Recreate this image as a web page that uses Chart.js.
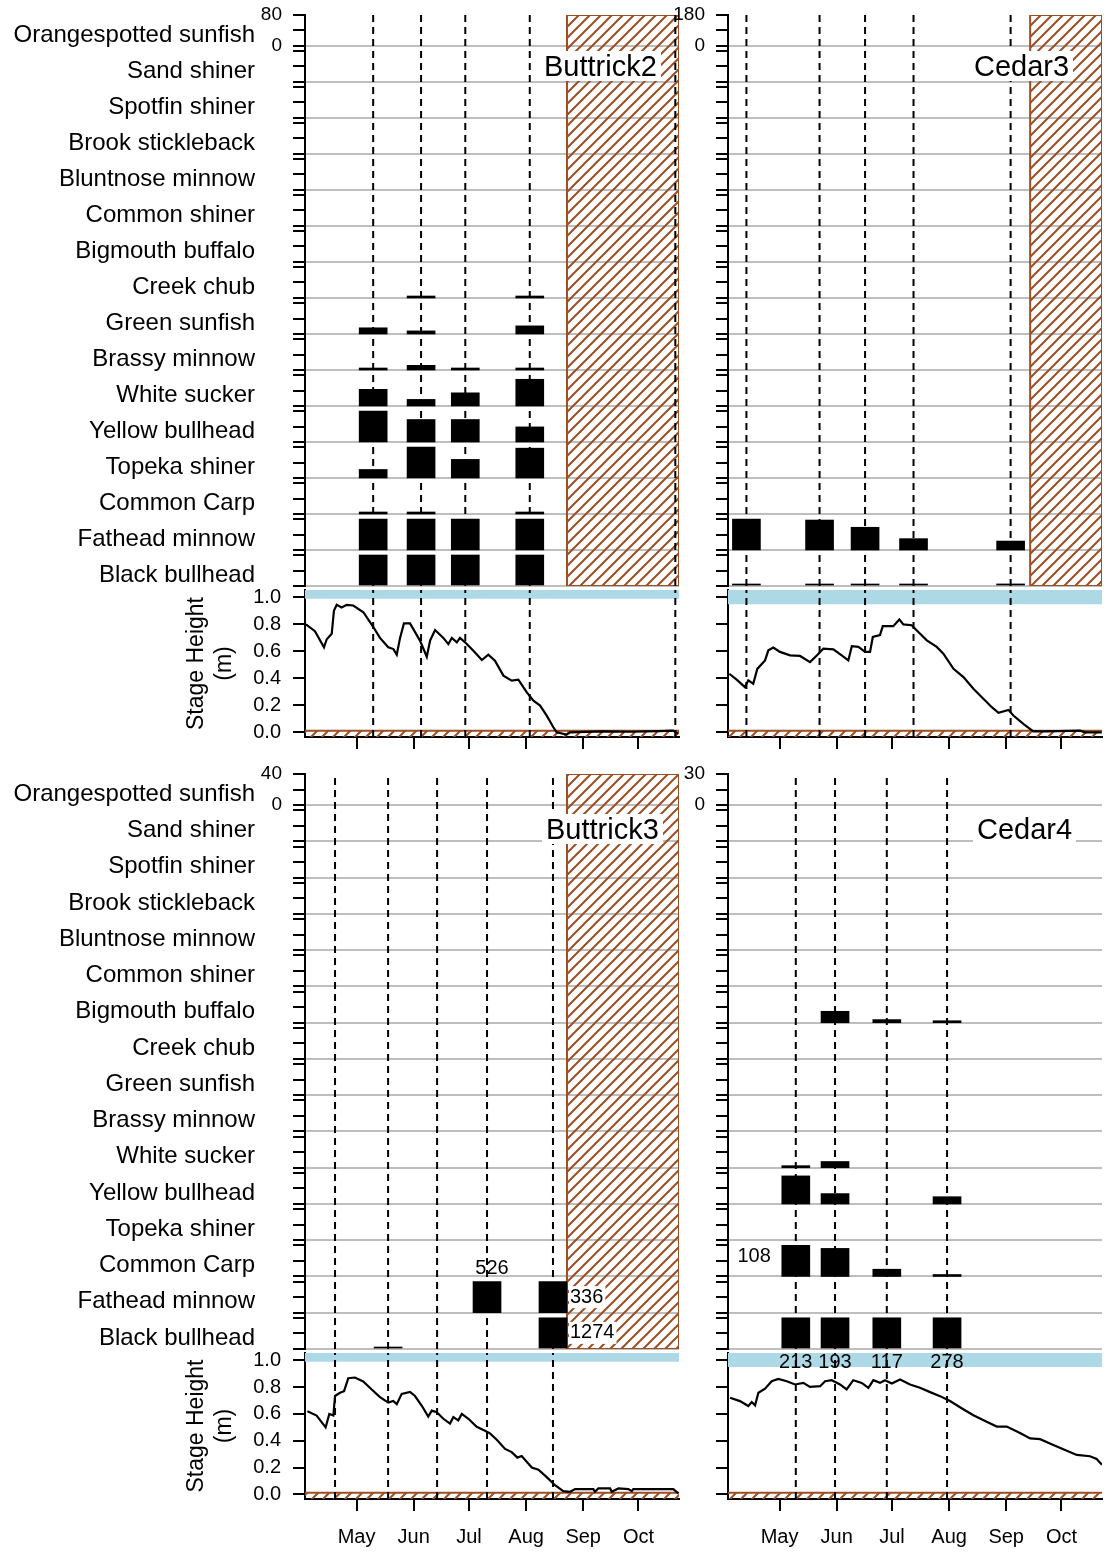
<!DOCTYPE html>
<html lang="en">
<head>
<meta charset="UTF-8">
<title>Fish catch and stage height</title>
<script src="https://cdn.jsdelivr.net/npm/chart.js@4"></script>
<style>
  body { margin: 0; background: #fff; width: 1104px; height: 1552px; position: relative; overflow: hidden;
         font-family: "Liberation Sans", Arial, sans-serif; }
  .box { position: absolute; }
  .box canvas { display: block; }
  .site { position: absolute; z-index: 9; background: #fff; color: #000; font-size: 29px;
          line-height: 30px; padding: 0 4px; white-space: nowrap; }
</style>
</head>
<body>
<div class="box" style="left:0;top:0;z-index:3"><canvas id="fB2"></canvas></div>
<div class="box" style="left:660px;top:0;z-index:4"><canvas id="fC3"></canvas></div>
<div class="box" style="left:0;top:586px;z-index:1"><canvas id="sB2"></canvas></div>
<div class="box" style="left:660px;top:586px;z-index:2"><canvas id="sC3"></canvas></div>
<div class="box" style="left:0;top:760px;z-index:3"><canvas id="fB3"></canvas></div>
<div class="box" style="left:660px;top:760px;z-index:4"><canvas id="fC4"></canvas></div>
<div class="box" style="left:0;top:1349px;z-index:1"><canvas id="sB3"></canvas></div>
<div class="box" style="left:660px;top:1349px;z-index:2"><canvas id="sC4"></canvas></div>
<div class="site" style="left:540px;top:51px">Buttrick2</div>
<div class="site" style="left:970px;top:51px">Cedar3</div>
<div class="site" style="left:542px;top:814px">Buttrick3</div>
<div class="site" style="left:973px;top:814px">Cedar4</div>

<script>
// ---- data ----
const SPECIES = ['Orangespotted sunfish', 'Sand shiner', 'Spotfin shiner', 'Brook stickleback',
  'Bluntnose minnow', 'Common shiner', 'Bigmouth buffalo', 'Creek chub', 'Green sunfish',
  'Brassy minnow', 'White sucker', 'Yellow bullhead', 'Topeka shiner', 'Common Carp',
  'Fathead minnow', 'Black bullhead'];
const MONTHS = ['May', 'Jun', 'Jul', 'Aug', 'Sep', 'Oct'];
const MONTH_DOY = [121, 152, 182, 213, 244, 274];   // day of year, 1st of month
const STAGE_TICKS = [0, 0.2, 0.4, 0.6, 0.8, 1.0];

// Buttrick2 (sample dates as day of year, counts per species top to bottom)
const B2_DATES = [130, 156, 180, 215, 294];
const B2_MAX = 80;
const B2_DRY = 235.2;
const B2_COUNTS = [
  [0, 0, 0, 0, 0], [0, 0, 0, 0, 0], [0, 0, 0, 0, 0], [0, 0, 0, 0, 0],
  [0, 0, 0, 0, 0], [0, 0, 0, 0, 0], [0, 0, 0, 0, 0],
  [0, 5, 0, 5, 0],        // Creek chub
  [16, 8, 0, 21, 0],      // Green sunfish
  [1, 12, 1, 2, 0],       // Brassy minnow
  [43, 17, 34, 69, 0],    // White sucker
  [80, 58, 58, 39, 0],    // Yellow bullhead
  [22, 80, 48, 77, 0],    // Topeka shiner
  [1, 1, 0, 1, 0],        // Common Carp
  [80, 80, 80, 80, 0],    // Fathead minnow
  [80, 80, 80, 80, 0]     // Black bullhead
];
const B2_OVER = [];
const B2_DOY = [93.5, 98.4, 103.3, 104.8, 107.5, 108.7, 110.2, 112.9, 115.6, 119.2, 124.7, 130.1,
  133.7, 138.2, 141.0, 142.8, 144.6, 146.7, 150.0, 155.4, 159.1, 160.9, 163.6, 168.1, 170.8, 172.7,
  175.4, 177.1, 179.9, 184.4, 189.0, 192.5, 196.1, 200.7, 205.2, 208.8, 213.4, 217.0, 220.6, 224.2,
  227.8, 229.6, 235.0, 236.9, 255.0, 270.0, 285.0, 292.8, 295.5];
const B2_STAGE = [0.80, 0.75, 0.63, 0.69, 0.73, 0.90, 0.945, 0.926, 0.945, 0.94, 0.89, 0.78,
  0.70, 0.63, 0.617, 0.575, 0.70, 0.807, 0.807, 0.68, 0.56, 0.68, 0.758, 0.70, 0.654, 0.70,
  0.667, 0.70, 0.667, 0.605, 0.536, 0.575, 0.53, 0.42, 0.383, 0.39, 0.296, 0.235, 0.198, 0.123,
  0.037, 0.0, -0.017, 0.0, 0.007, 0.004, 0.008, 0.012, -0.01];

// Cedar3
const C3_DATES = [103.0, 142.7, 167.4, 193.7, 246.4];
const C3_MAX = 180;
const C3_DRY = 257.0;
const C3_COUNTS = [
  [0, 0, 0, 0, 0], [0, 0, 0, 0, 0], [0, 0, 0, 0, 0], [0, 0, 0, 0, 0],
  [0, 0, 0, 0, 0], [0, 0, 0, 0, 0], [0, 0, 0, 0, 0], [0, 0, 0, 0, 0],
  [0, 0, 0, 0, 0], [0, 0, 0, 0, 0], [0, 0, 0, 0, 0], [0, 0, 0, 0, 0],
  [0, 0, 0, 0, 0], [0, 0, 0, 0, 0],
  [180, 174, 132, 66, 52], // Fathead minnow
  [1, 1, 1, 1, 12]         // Black bullhead
];
const C3_OVER = [];
const C3_DOY = [93.7, 97.7, 102.2, 104.0, 106.7, 108.9, 113.1, 114.9, 117.6, 121.2, 126.7, 132.1,
  137.5, 141.2, 144.7, 150.2, 154.7, 158.3, 160.2, 163.8, 167.4, 170.1, 171.6, 175.5, 177.0, 182.7,
  186.0, 188.2, 192.7, 196.3, 200.9, 206.3, 209.9, 215.4, 220.8, 226.2, 231.6, 236.2, 239.8, 245.2,
  247.9, 253.3, 258.7, 266.0, 284.1, 286.8, 295.9];
const C3_STAGE = [0.434, 0.39, 0.335, 0.385, 0.36, 0.47, 0.533, 0.608, 0.628, 0.596, 0.57, 0.566,
  0.52, 0.57, 0.62, 0.615, 0.57, 0.533, 0.638, 0.633, 0.596, 0.596, 0.707, 0.72, 0.787, 0.787,
  0.836, 0.80, 0.794, 0.744, 0.682, 0.633, 0.583, 0.471, 0.409, 0.323, 0.248, 0.186, 0.144, 0.166,
  0.124, 0.062, 0.007, 0.007, 0.012, 0.0, 0.0];

// Buttrick3
const B3_DATES = [109.3, 138.1, 164.7, 191.8, 227.6];
const B3_MAX = 40;
const B3_DRY = 235.2;
const B3_COUNTS = [
  [0, 0, 0, 0, 0], [0, 0, 0, 0, 0], [0, 0, 0, 0, 0], [0, 0, 0, 0, 0],
  [0, 0, 0, 0, 0], [0, 0, 0, 0, 0], [0, 0, 0, 0, 0], [0, 0, 0, 0, 0],
  [0, 0, 0, 0, 0], [0, 0, 0, 0, 0], [0, 0, 0, 0, 0], [0, 0, 0, 0, 0],
  [0, 0, 0, 0, 0], [0, 0, 0, 0, 0],
  [0, 0, 0, 526, 336],     // Fathead minnow
  [0, 1, 0, 0, 1274]       // Black bullhead
];
const B3_OVER = [[14, 3, 'top'], [14, 4, 'right'], [15, 4, 'right']];
const B3_DOY = [94.3, 99.3, 104.2, 106.2, 108.4, 109.3, 112.0, 114.2, 116.5, 120.1, 124.6, 129.2,
  133.7, 138.2, 140.9, 142.8, 145.5, 150.0, 152.7, 156.4, 159.9, 161.8, 164.5, 168.1, 171.7, 173.5,
  176.2, 178.1, 181.7, 186.2, 190.7, 193.4, 197.1, 201.6, 205.2, 208.3, 210.6, 216.1, 219.7, 224.2,
  228.7, 233.2, 236.9, 239.6, 249.5, 250.4, 252.2, 258.6, 259.5, 263.1, 268.5, 270.4, 271.2, 292.9,
  295.6];
const B3_STAGE = [0.62, 0.588, 0.50, 0.60, 0.588, 0.734, 0.758, 0.77, 0.867, 0.872, 0.843, 0.782,
  0.726, 0.685, 0.697, 0.673, 0.75, 0.765, 0.734, 0.661, 0.581, 0.625, 0.613, 0.564, 0.528, 0.576,
  0.552, 0.60, 0.564, 0.504, 0.475, 0.455, 0.407, 0.339, 0.315, 0.274, 0.286, 0.20, 0.184, 0.128,
  0.068, 0.024, 0.019, 0.039, 0.039, 0.019, 0.044, 0.044, 0.019, 0.044, 0.039, 0.024, 0.039, 0.039,
  0.007];

// Cedar4
const C4_DATES = [129.8, 151.1, 179.2, 211.9];
const C4_MAX = 30;
const C4_DRY = null;
const C4_COUNTS = [
  [0, 0, 0, 0], [0, 0, 0, 0], [0, 0, 0, 0], [0, 0, 0, 0], [0, 0, 0, 0], [0, 0, 0, 0],
  [0, 11, 3, 1],           // Bigmouth buffalo
  [0, 0, 0, 0], [0, 0, 0, 0], [0, 0, 0, 0],
  [2, 6, 0, 0],            // White sucker
  [27, 10, 0, 7],          // Yellow bullhead
  [0, 0, 0, 0],
  [108, 27, 7, 1],         // Common Carp
  [0, 0, 0, 0],
  [213, 193, 117, 278]     // Black bullhead
];
const C4_OVER = [[13, 0, 'left'], [15, 0, 'bottom'], [15, 1, 'bottom'], [15, 2, 'bottom'], [15, 3, 'bottom']];
const C4_DOY = [94.1, 99.5, 104.0, 105.9, 107.7, 109.5, 113.1, 116.7, 120.3, 124.9, 129.4, 133.9,
  137.5, 143.0, 145.7, 149.3, 153.8, 157.4, 161.0, 165.6, 169.2, 171.9, 175.5, 178.2, 181.9, 186.4,
  191.8, 197.2, 202.7, 208.1, 213.5, 220.7, 226.2, 233.4, 238.9, 244.3, 251.5, 257.0, 262.4, 269.6,
  276.9, 282.3, 289.5, 293.1, 296.0];
const C4_STAGE = [0.721, 0.696, 0.659, 0.689, 0.664, 0.758, 0.788, 0.844, 0.862, 0.844, 0.82, 0.832,
  0.802, 0.807, 0.844, 0.852, 0.82, 0.783, 0.852, 0.832, 0.795, 0.852, 0.832, 0.852, 0.827, 0.857,
  0.82, 0.795, 0.763, 0.733, 0.696, 0.635, 0.59, 0.541, 0.506, 0.506, 0.457, 0.417, 0.412, 0.368,
  0.326, 0.294, 0.284, 0.264, 0.22];

// ---- styling / layout ----
const X_MIN = 93, X_MAX = 296;
const ROWS = SPECIES.length;
const ROW_FILL = 0.861;              // share of a row the axis 0..max occupies
const Y_TOP = ROWS - 1 + ROW_FILL;
const NAME_OFFSET = 0.3;
const STAGE_MIN = -0.035, STAGE_MAX = 1.055, DRY_LEVEL = 0.012;
const BROWN = '#9c4f24', BLUE = '#add8e6', GRID = '#bebebe';

Chart.defaults.font.family = '"Liberation Sans", Arial, sans-serif';
Chart.defaults.color = '#000';

function hatch() {
  const c = document.createElement('canvas');
  c.width = 11; c.height = 11;
  const g = c.getContext('2d');
  g.strokeStyle = BROWN;
  g.lineWidth = 2;
  g.beginPath();
  g.moveTo(0, 11); g.lineTo(11, 0);
  g.moveTo(-3, 3); g.lineTo(3, -3);
  g.moveTo(8, 14); g.lineTo(14, 8);
  g.stroke();
  return g.createPattern(c, 'repeat');
}
const HATCH = hatch();

function dashPts(dates, lo, hi) {
  const pts = [];
  dates.forEach(d => pts.push({x: d, y: lo}, {x: d, y: hi}, {x: d, y: null}));
  return pts;
}

function noPad(s) { s.paddingTop = 0; s.paddingBottom = 0; s.paddingLeft = 0; s.paddingRight = 0; }

// count labels for bars cut at the axis maximum
const overLabels = {
  id: 'overLabels',
  afterDatasetsDraw(chart) {
    const meta = chart.getDatasetMeta(0);
    const data = chart.data.datasets[0].data;
    const ctx = chart.ctx;
    ctx.save();
    ctx.font = '20px "Liberation Sans", Arial, sans-serif';
    ctx.textBaseline = 'middle';
    meta.data.forEach((el, i) => {
      const d = data[i];
      if (!d.side) return;
      const t = String(d.n);
      const w = ctx.measureText(t).width;
      const top = Math.min(el.y, el.base), bot = Math.max(el.y, el.base);
      let x, y;
      if (d.side === 'top') { x = el.x + 5 - w / 2; y = top - 13; }
      else if (d.side === 'right') { x = el.x + 17; y = (top + bot) / 2; }
      else if (d.side === 'left') { x = el.x - 25 - w; y = (top + bot) / 2 - 4; }
      else { x = el.x - w / 2; y = bot + 14; }
      if (d.side === 'right') {
        ctx.fillStyle = '#fff';
        ctx.fillRect(x - 1, y - 11, w + 3, 22);
      }
      ctx.fillStyle = '#000';
      ctx.textAlign = 'left';
      ctx.fillText(t, x, y);
    });
    ctx.restore();
  }
};

function fishChart(id, p, L) {
  const canvas = document.getElementById(id);
  canvas.width = L.w; canvas.height = L.fishH;
  const bars = [];
  p.counts.forEach((row, k) => row.forEach((n, j) => {
    if (!n) return;
    const base = ROWS - 1 - k;
    const o = p.over.find(q => q[0] === k && q[1] === j);
    bars.push({x: p.dates[j], y: [base, base + Math.min(n, p.max) / p.max * ROW_FILL], n, side: o ? o[2] : null});
  }));
  const datasets = [
    {type: 'bar', data: bars, backgroundColor: '#000', borderWidth: 0, barThickness: 28, minBarLength: 2},
    {type: 'line', data: dashPts(p.dates, 0, Y_TOP), borderColor: '#000', borderWidth: 2,
     borderDash: [7, 5], pointRadius: 0, fill: false}
  ];
  if (p.dry) {
    datasets.push({type: 'line', data: [{x: p.dry, y: Y_TOP}, {x: X_MAX, y: Y_TOP}],
      backgroundColor: HATCH, borderWidth: 0, pointRadius: 0, fill: 'start'});
    datasets.push({type: 'line', data: [{x: p.dry, y: 0}, {x: p.dry, y: Y_TOP}, {x: X_MAX, y: Y_TOP},
      {x: X_MAX, y: 0}, {x: p.dry, y: 0}], borderColor: BROWN, borderWidth: 2, pointRadius: 0, fill: false});
  }
  const scales = {
    x: {type: 'linear', display: false, min: X_MIN, max: X_MAX, offset: false},
    y: {
      position: 'left', min: 0, max: Y_TOP, weight: 0,
      afterBuildTicks: s => {
        const t = [];
        for (let b = 0; b < ROWS; b++) t.push({value: b}, {value: b + ROW_FILL / 2}, {value: b + ROW_FILL});
        s.ticks = t;
      },
      ticks: {
        autoSkip: false, padding: 11, font: {size: 19},
        callback: v => Math.abs(v - (ROWS - 1)) < 1e-6 ? '0' : (Math.abs(v - Y_TOP) < 1e-6 ? String(p.max) : '')
      },
      grid: {
        color: c => (c.tick && Number.isInteger(c.tick.value)) ? GRID : 'rgba(0,0,0,0)',
        tickColor: '#000', lineWidth: 2, tickLength: 12
      },
      border: {color: '#000', width: 2},
      afterFit: s => { s.width = L.numW; noPad(s); }
    }
  };
  if (L.names) {
    scales.yName = {
      position: 'left', min: 0, max: Y_TOP, weight: 10,
      afterBuildTicks: s => { s.ticks = SPECIES.map((_, k) => ({value: k + NAME_OFFSET})); },
      ticks: {autoSkip: false, padding: 2, font: {size: 24},
              callback: v => SPECIES[ROWS - 1 - Math.round(v - NAME_OFFSET)]},
      grid: {display: false, drawTicks: false},
      border: {display: false},
      afterFit: s => { s.width = L.nameW; noPad(s); }
    };
  }
  return new Chart(canvas, {
    type: 'bar',
    data: {datasets},
    plugins: [overLabels],
    options: {
      responsive: false, animation: false, events: [],
      layout: {padding: {left: 0, top: L.padT, right: L.padR, bottom: L.padB}},
      plugins: {legend: {display: false}, tooltip: {enabled: false}},
      scales
    }
  });
}

function stageChart(id, p, L) {
  const canvas = document.getElementById(id);
  canvas.width = L.w; canvas.height = L.stageH;
  const datasets = [
    {data: p.doy.map((x, i) => ({x, y: p.stage[i]})), borderColor: '#000', borderWidth: 2.2,
     pointRadius: 0, tension: 0, fill: false},
    {data: dashPts(p.dates, STAGE_MIN, STAGE_MAX), borderColor: '#000', borderWidth: 2,
     borderDash: [7, 5], pointRadius: 0, fill: false},
    {data: [{x: X_MIN, y: STAGE_MAX}, {x: X_MAX, y: STAGE_MAX}], backgroundColor: BLUE,
     borderWidth: 0, pointRadius: 0, fill: {value: p.band}},
    {data: [{x: X_MIN, y: DRY_LEVEL}, {x: X_MAX, y: DRY_LEVEL}], backgroundColor: HATCH,
     borderColor: BROWN, borderWidth: 2, pointRadius: 0, fill: 'start'}
  ];
  return new Chart(canvas, {
    type: 'line',
    data: {datasets},
    options: {
      responsive: false, animation: false, events: [],
      layout: {padding: {left: L.stagePadL, top: 4, right: L.padR, bottom: 0}},
      plugins: {legend: {display: false}, tooltip: {enabled: false}},
      scales: {
        x: {
          type: 'linear', min: X_MIN, max: X_MAX,
          afterBuildTicks: s => { s.ticks = MONTH_DOY.map(v => ({value: v})); },
          ticks: {display: L.months, autoSkip: false, maxRotation: 0, padding: 14, font: {size: 20},
                  callback: (v, i) => MONTHS[i]},
          grid: {drawOnChartArea: false, color: '#000', lineWidth: 2, tickLength: 12},
          border: {color: '#000', width: 2},
          afterFit: s => { s.height = L.xAxisH; noPad(s); }
        },
        y: {
          min: STAGE_MIN, max: STAGE_MAX,
          afterBuildTicks: s => { s.ticks = STAGE_TICKS.map(v => ({value: v})); },
          ticks: {autoSkip: false, padding: 12, font: {size: 20},
                  callback: v => L.names ? v.toFixed(1) : ''},
          title: {display: L.names, text: ['Stage Height', '(m)'], font: {size: 23}, padding: 0},
          grid: {drawOnChartArea: false, color: '#000', lineWidth: 2, tickLength: 12},
          border: {color: '#000', width: 2},
          afterFit: s => { s.width = L.stageW; noPad(s); }
        }
      }
    }
  });
}

const LEFT = {w: 690, names: true, numW: 48, nameW: 257, padR: 11, stagePadL: 183, stageW: 122};
const RIGHT = {w: 444, names: false, numW: 68, nameW: 0, padR: 2, stagePadL: 0, stageW: 68};
const TOP = {fishH: 600, padT: 15, padB: 14, stageH: 168, xAxisH: 17, months: false};
const BOTTOM = {fishH: 620, padT: 14, padB: 31, stageH: 203, xAxisH: 53, months: true};

const PANELS = [
  ['B2', {dates: B2_DATES, counts: B2_COUNTS, max: B2_MAX, over: B2_OVER, dry: B2_DRY, band: 0.99, doy: B2_DOY, stage: B2_STAGE}, LEFT, TOP],
  ['C3', {dates: C3_DATES, counts: C3_COUNTS, max: C3_MAX, over: C3_OVER, dry: C3_DRY, band: 0.95, doy: C3_DOY, stage: C3_STAGE}, RIGHT, TOP],
  ['B3', {dates: B3_DATES, counts: B3_COUNTS, max: B3_MAX, over: B3_OVER, dry: B3_DRY, band: 0.99, doy: B3_DOY, stage: B3_STAGE}, LEFT, BOTTOM],
  ['C4', {dates: C4_DATES, counts: C4_COUNTS, max: C4_MAX, over: C4_OVER, dry: C4_DRY, band: 0.95, doy: C4_DOY, stage: C4_STAGE}, RIGHT, BOTTOM]
];

PANELS.forEach(([key, p, side, row]) => {
  const L = Object.assign({}, side, row);
  fishChart('f' + key, p, L);
  stageChart('s' + key, p, L);
});
</script>
</body>
</html>
